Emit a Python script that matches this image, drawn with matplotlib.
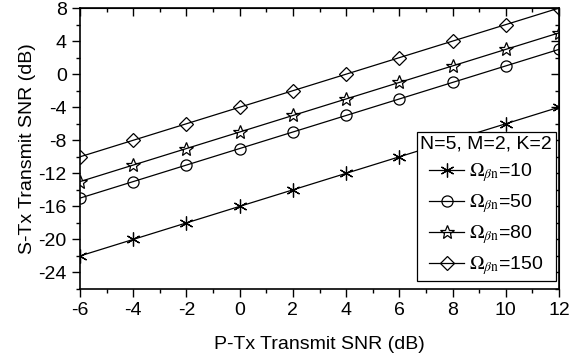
import matplotlib
matplotlib.use("Agg")
import matplotlib.pyplot as plt
import numpy as np

plt.rcParams['font.family'] = ['Liberation Sans', 'DejaVu Sans']
plt.rcParams['mathtext.fontset'] = 'stix'
plt.rcParams['axes.unicode_minus'] = False

# P-Tx transmit SNR (dB)
ptx_snr = [-6, -4, -2, 0, 2, 4, 6, 8, 10, 12]
# S-Tx transmit SNR (dB) for each Omega_beta_n
stx_om10 = [-22, -20, -18, -16, -14, -12, -10, -8, -6, -4]
stx_om50 = [-15, -13, -11, -9, -7, -5, -3, -1, 1, 3]
stx_om80 = [-13, -11, -9, -7, -5, -3, -1, 1, 3, 5]
stx_om150 = [-10, -8, -6, -4, -2, 0, 2, 4, 6, 8]
labels = [r'$\Omega_{\beta\mathrm{n}}$=10', r'$\Omega_{\beta\mathrm{n}}$=50',
          r'$\Omega_{\beta\mathrm{n}}$=80', r'$\Omega_{\beta\mathrm{n}}$=150']

fig = plt.figure(figsize=(5.82, 3.62), dpi=100)
ax = fig.add_axes([0.1375, 0.2017, 0.823, 0.776])

ax.plot(ptx_snr, stx_om10, 'k-', marker=(6, 2, 0), ms=10, mew=0.9, lw=0.9, label=labels[0])
ax.plot(ptx_snr, stx_om50, 'k-', marker='o', ms=8, mfc='none', mew=0.9, lw=0.9, label=labels[1])
ax.plot(ptx_snr, stx_om80, 'k-', marker='*', ms=10, mfc='none', mew=0.9, lw=0.9, label=labels[2])
ax.plot(ptx_snr, stx_om150, 'k-', marker='D', ms=7.5, mfc='none', mew=0.9, lw=0.9, label=labels[3])

ax.set_xlim(-6, 12)
ax.set_ylim(-26, 8)
ax.set_xticks(np.arange(-6, 13, 2))
ax.set_yticks(np.arange(-24, 9, 4))
ax.set_xticks(np.arange(-5, 12, 2), minor=True)
ax.set_yticks(np.arange(-26, 8, 2), minor=True)
ax.tick_params(axis='both', which='both', labelsize=14, width=1, direction='out')
ax.tick_params(which='major', length=6)
ax.tick_params(which='minor', length=3)

# top and right ticks point inward
top = ax.secondary_xaxis('top')
top.set_xticks(np.arange(-6, 13, 2))
top.set_xticks(np.arange(-5, 12, 2), minor=True)
top.tick_params(which='both', direction='in', labeltop=False, width=1)
top.tick_params(which='major', length=6)
top.tick_params(which='minor', length=3)
right = ax.secondary_yaxis('right')
right.set_yticks(np.arange(-24, 9, 4))
right.set_yticks(np.arange(-26, 8, 2), minor=True)
right.tick_params(which='both', direction='in', labelright=False, width=1)
right.tick_params(which='major', length=6)
right.tick_params(which='minor', length=3)

for s in ax.spines.values():
    s.set_linewidth(1.2)

ax.set_xlabel("P-Tx Transmit SNR (dB)", fontsize=14, labelpad=12)
ax.set_ylabel("S-Tx Transmit SNR (dB)", fontsize=14, labelpad=2)

leg = ax.legend(title="N=5, M=2, K=2", loc='lower right', bbox_to_anchor=(0.994, 0.028),
                borderaxespad=0, fontsize=14, title_fontsize=14,
                fancybox=False, edgecolor='black', framealpha=1, handlelength=1.8,
                labelspacing=0.42, borderpad=0.2, handletextpad=0.25)
leg.get_frame().set_linewidth(0.9)

fig.savefig("out.png", dpi=100)
